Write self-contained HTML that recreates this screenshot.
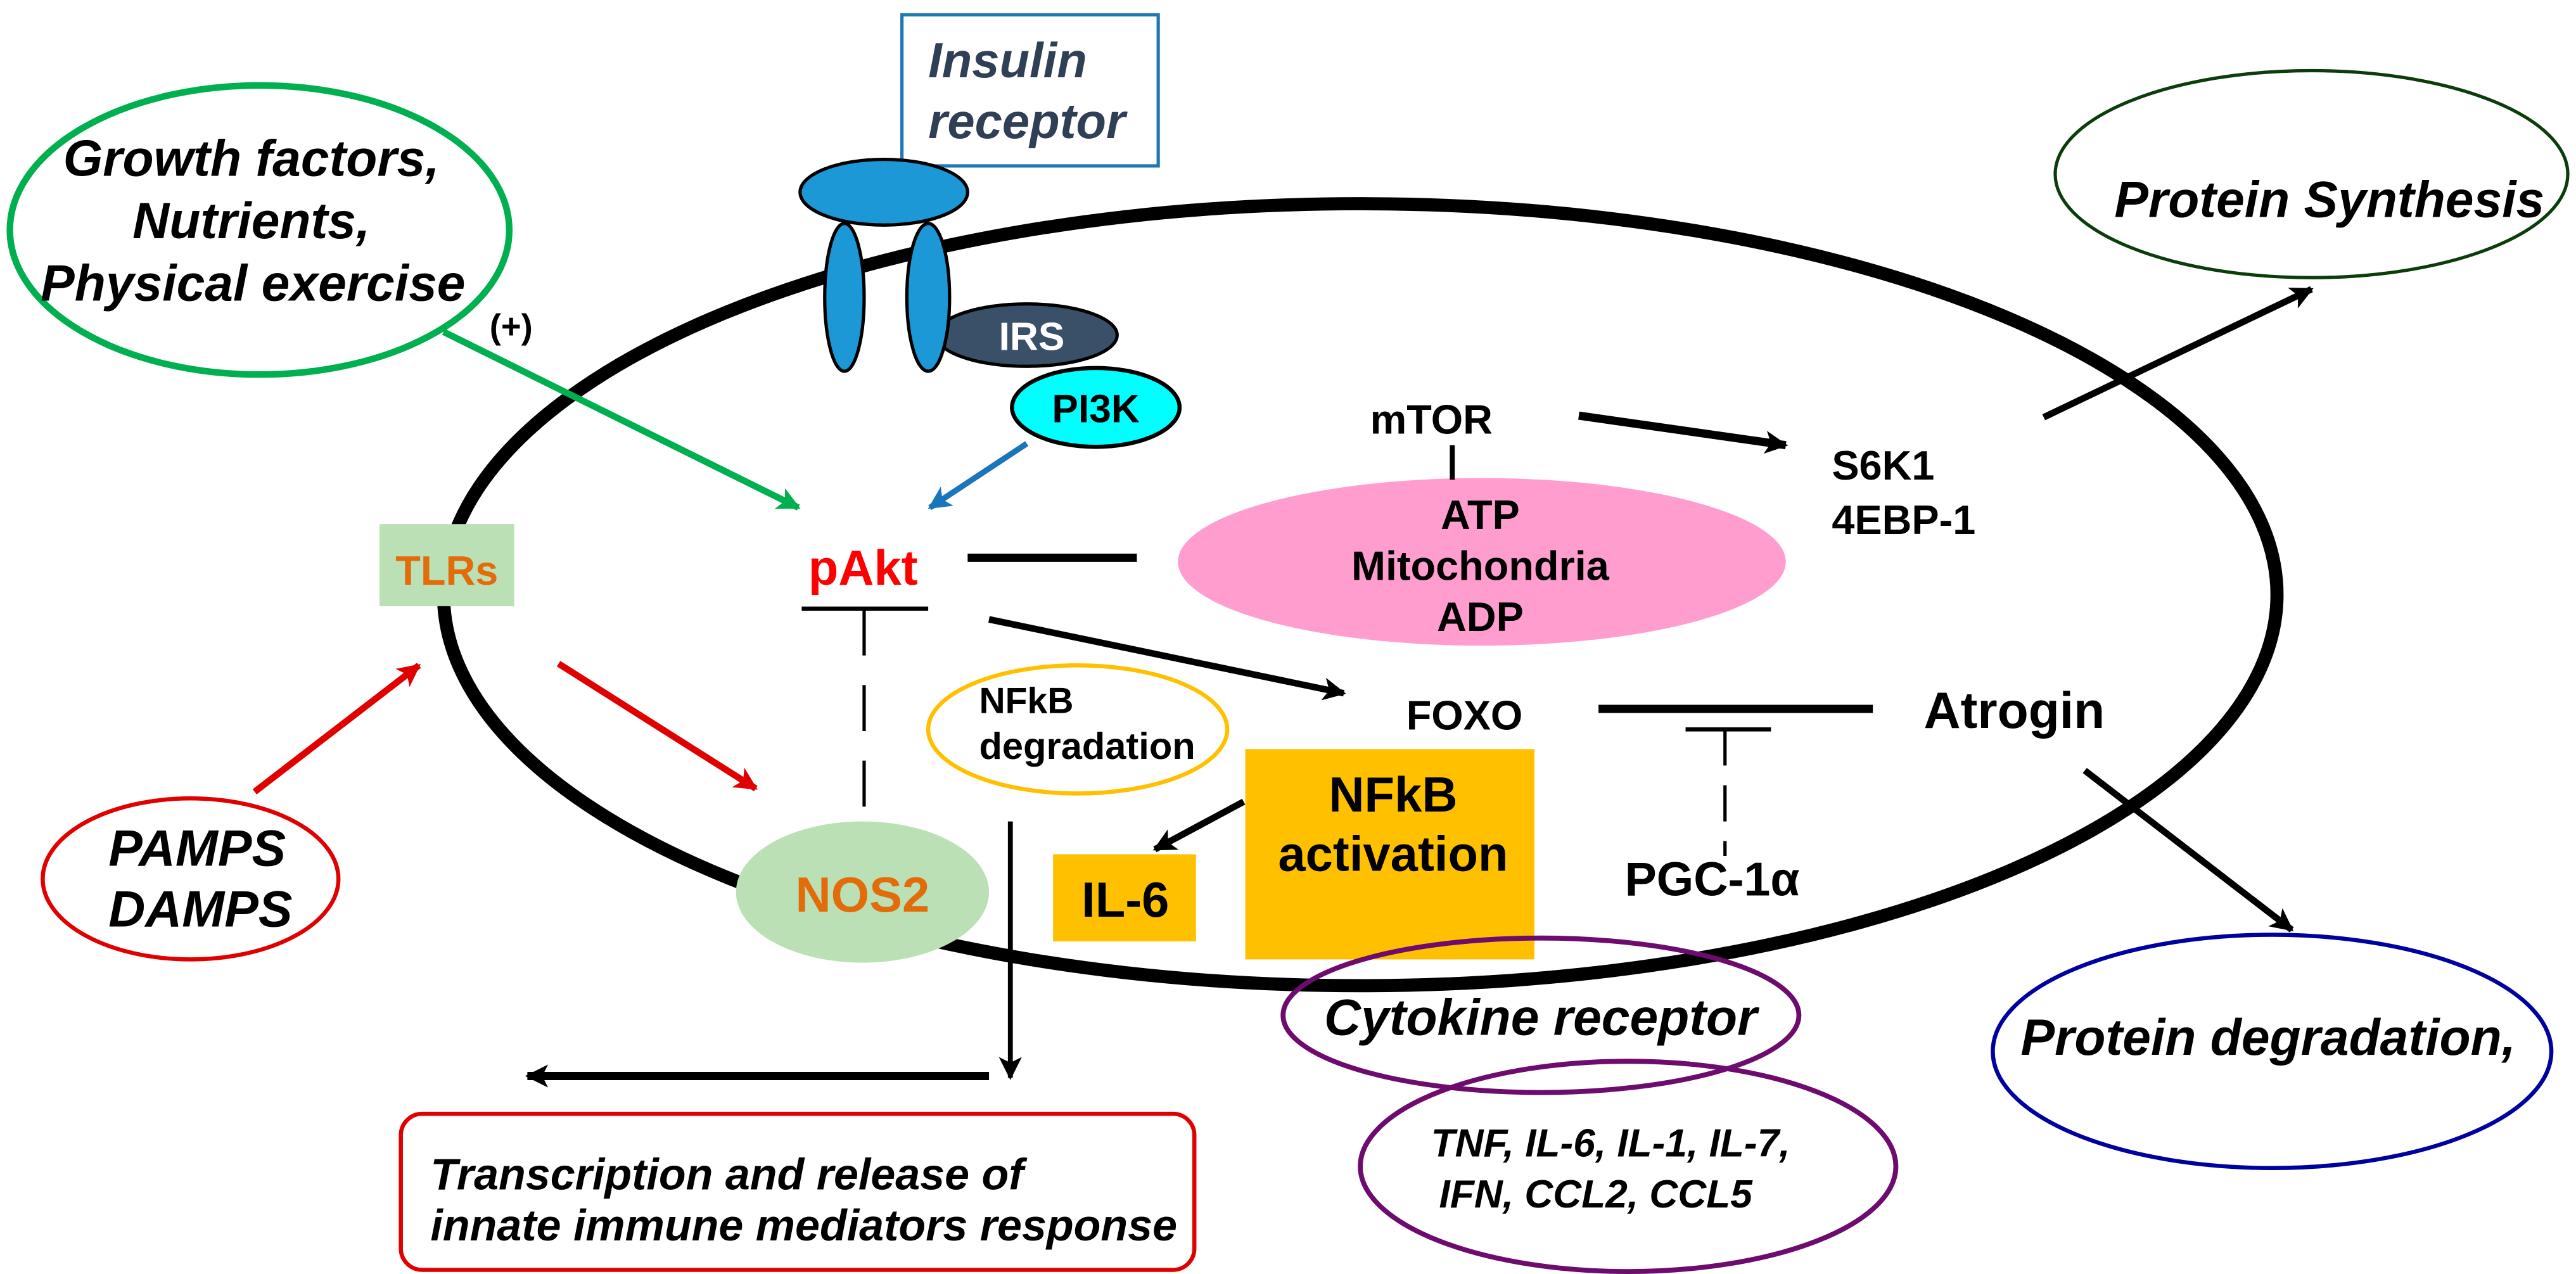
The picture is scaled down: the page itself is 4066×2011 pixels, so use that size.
<!DOCTYPE html>
<html><head><meta charset="utf-8"><style>
html,body{margin:0;padding:0;background:#fff;}
svg{display:block;}
text{font-family:"Liberation Sans",Arial,sans-serif;font-weight:bold;}
.i{font-style:italic;}
</style></head><body>
<svg width="4066" height="2011" viewBox="0 0 1568 775.5" preserveAspectRatio="none" xmlns="http://www.w3.org/2000/svg">
<defs>
<marker id="ak" viewBox="0 0 10 10" refX="9" refY="5" markerWidth="16" markerHeight="14" orient="auto" markerUnits="userSpaceOnUse"><path d="M0,0 L10,5 L0,10 L2.5,5 z" fill="#000"/></marker>
<marker id="ar" viewBox="0 0 10 10" refX="9" refY="5" markerWidth="16" markerHeight="14" orient="auto" markerUnits="userSpaceOnUse"><path d="M0,0 L10,5 L0,10 L2.5,5 z" fill="#E00000"/></marker>
<marker id="ag" viewBox="0 0 10 10" refX="9" refY="5" markerWidth="16" markerHeight="14" orient="auto" markerUnits="userSpaceOnUse"><path d="M0,0 L10,5 L0,10 L2.5,5 z" fill="#00B050"/></marker>
<marker id="ab" viewBox="0 0 10 10" refX="9" refY="5" markerWidth="16" markerHeight="14" orient="auto" markerUnits="userSpaceOnUse"><path d="M0,0 L10,5 L0,10 L2.5,5 z" fill="#1A75BB"/></marker>
</defs>

<ellipse cx="828" cy="362" rx="558" ry="238" fill="none" stroke="#000" stroke-width="8"/>

<rect x="549" y="9" width="156" height="92" fill="#fff" stroke="#1F77B4" stroke-width="2"/>
<text x="565" y="47" font-size="30" class="i" fill="#2F3F55">Insulin</text>
<text x="565" y="84" font-size="30" class="i" fill="#2F3F55">receptor</text>

<ellipse cx="625" cy="204" rx="55" ry="19" fill="#3A5068" stroke="#000" stroke-width="2"/>
<text x="628" y="213" font-size="24" fill="#fff" text-anchor="middle">IRS</text>
<ellipse cx="538" cy="117" rx="51" ry="20" fill="#1B98D5" stroke="#000" stroke-width="2"/>
<ellipse cx="514" cy="181" rx="12" ry="45" fill="#1B98D5" stroke="#000" stroke-width="2"/>
<ellipse cx="565" cy="181" rx="13" ry="45" fill="#1B98D5" stroke="#000" stroke-width="2"/>
<ellipse cx="667" cy="248" rx="51" ry="24" fill="#00FFFF" stroke="#000" stroke-width="2.5"/>
<text x="667" y="257" font-size="24" fill="#000" text-anchor="middle">PI3K</text>
<line x1="625" y1="270" x2="566" y2="309" stroke="#1A75BB" stroke-width="3.5" marker-end="url(#ab)"/>

<ellipse cx="158" cy="140" rx="152" ry="88" fill="none" stroke="#00B050" stroke-width="4"/>
<text x="153" y="107" font-size="31" class="i" text-anchor="middle">Growth factors,</text>
<text x="153" y="145" font-size="31" class="i" text-anchor="middle">Nutrients,</text>
<text x="154" y="183" font-size="31" class="i" text-anchor="middle">Physical exercise</text>
<text x="298" y="206" font-size="21">(+)</text>
<line x1="270" y1="202" x2="486" y2="309" stroke="#00B050" stroke-width="4" marker-end="url(#ag)"/>

<rect x="231" y="319" width="82" height="50" fill="#BBE0B5"/>
<text x="272" y="356" font-size="25" fill="#E26B0A" text-anchor="middle">TLRs</text>

<text x="492" y="356" font-size="30" fill="#FF0000">pAkt</text>
<line x1="589" y1="339.5" x2="692" y2="339.5" stroke="#000" stroke-width="5"/>
<line x1="488" y1="370.5" x2="565" y2="370.5" stroke="#000" stroke-width="2.5"/>
<line x1="526" y1="371" x2="526" y2="491" stroke="#000" stroke-width="2" stroke-dasharray="28,18"/>
<line x1="602" y1="377" x2="818" y2="422" stroke="#000" stroke-width="4" marker-end="url(#ak)"/>

<ellipse cx="902" cy="342" rx="185" ry="51" fill="#FF9DCF"/>
<text x="901" y="322" font-size="25" text-anchor="middle">ATP</text>
<text x="901" y="353" font-size="25" text-anchor="middle">Mitochondria</text>
<text x="901" y="384" font-size="25" text-anchor="middle">ADP</text>
<text x="834" y="264" font-size="25">mTOR</text>
<line x1="884" y1="271" x2="884" y2="292" stroke="#000" stroke-width="3"/>
<line x1="961" y1="253" x2="1087" y2="271" stroke="#000" stroke-width="5" marker-end="url(#ak)"/>
<text x="1115" y="292" font-size="25">S6K1</text>
<text x="1115" y="325" font-size="25">4EBP-1</text>
<line x1="1244" y1="254" x2="1407" y2="176" stroke="#000" stroke-width="4" marker-end="url(#ak)"/>

<ellipse cx="1407" cy="106" rx="156" ry="63" fill="#fff" stroke="#0B3D0B" stroke-width="2"/>
<text x="1287" y="132" font-size="31" class="i">Protein Synthesis</text>

<text x="856" y="444" font-size="25">FOXO</text>
<line x1="973" y1="431.5" x2="1140" y2="431.5" stroke="#000" stroke-width="5"/>
<line x1="1026" y1="444" x2="1078" y2="444" stroke="#000" stroke-width="2.5"/>
<line x1="1050" y1="444" x2="1050" y2="521" stroke="#000" stroke-width="2" stroke-dasharray="22,12"/>
<text x="989" y="545" font-size="29">PGC-1α</text>
<text x="1171" y="443" font-size="31">Atrogin</text>
<line x1="1269" y1="469" x2="1395" y2="566" stroke="#000" stroke-width="4" marker-end="url(#ak)"/>

<ellipse cx="1383" cy="640" rx="170" ry="71" fill="#fff" stroke="#0000A0" stroke-width="2.5"/>
<text x="1230" y="642" font-size="31" class="i">Protein degradation,</text>

<ellipse cx="656" cy="444" rx="91" ry="39" fill="#fff" stroke="#FFC000" stroke-width="2.5"/>
<text x="596" y="434" font-size="22">NFkB</text>
<text x="596" y="462" font-size="23">degradation</text>

<rect x="758" y="456" width="176" height="128" fill="#FFC000"/>
<text x="848" y="494" font-size="30" text-anchor="middle">NFkB</text>
<text x="848" y="530" font-size="30" text-anchor="middle">activation</text>
<rect x="641" y="520" width="87" height="53" fill="#FFC000"/>
<text x="685" y="558" font-size="30" text-anchor="middle">IL-6</text>
<line x1="757" y1="488" x2="703" y2="517" stroke="#000" stroke-width="4" marker-end="url(#ak)"/>

<ellipse cx="525" cy="543" rx="77" ry="43" fill="#BBE0B5"/>
<text x="525" y="555" font-size="30" fill="#E36C0A" text-anchor="middle">NOS2</text>

<line x1="615" y1="500" x2="615" y2="656" stroke="#000" stroke-width="3" marker-end="url(#ak)"/>
<line x1="602" y1="655" x2="321" y2="655" stroke="#000" stroke-width="5" marker-end="url(#ak)"/>
<rect x="244" y="678" width="483" height="95" rx="13" ry="13" fill="#fff" stroke="#E00000" stroke-width="2.5"/>
<text x="262" y="724" font-size="27" class="i">Transcription and release of</text>
<text x="262" y="755" font-size="27" class="i">innate immune mediators response</text>

<line x1="155" y1="482" x2="255" y2="405" stroke="#E00000" stroke-width="4" marker-end="url(#ar)"/>
<line x1="340" y1="404" x2="460" y2="480" stroke="#E00000" stroke-width="4" marker-end="url(#ar)"/>
<ellipse cx="116" cy="535" rx="90" ry="49" fill="#fff" stroke="#E00000" stroke-width="2.5"/>
<text x="120" y="527" font-size="31" class="i" text-anchor="middle">PAMPS</text>
<text x="122" y="564" font-size="31" class="i" text-anchor="middle">DAMPS</text>

<ellipse cx="938" cy="618" rx="157" ry="47" fill="none" stroke="#6E0B6E" stroke-width="3"/>
<text x="806" y="630" font-size="31" class="i">Cytokine receptor</text>
<ellipse cx="991" cy="710" rx="163" ry="64" fill="none" stroke="#6E0B6E" stroke-width="3"/>
<text x="871" y="704" font-size="24" class="i">TNF, IL-6, IL-1, IL-7,</text>
<text x="876" y="735" font-size="24" class="i">IFN,  CCL2, CCL5</text>
</svg>
</body></html>
